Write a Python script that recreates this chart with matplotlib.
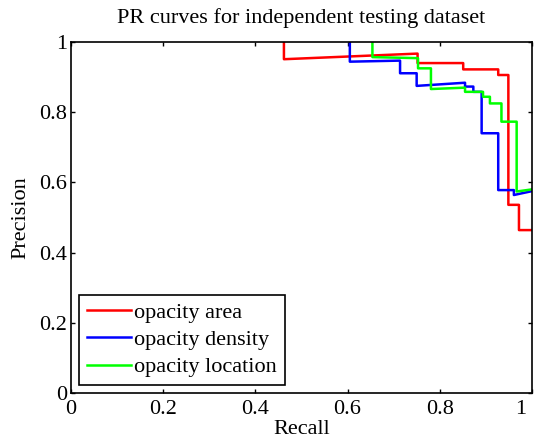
import matplotlib
matplotlib.use("Agg")
import matplotlib.pyplot as plt
import matplotlib.transforms as mtransforms

plt.rcParams['font.family'] = ['Liberation Serif', 'DejaVu Serif']

# PR curve points (recall, precision)
area_recall = [0.462, 0.462, 0.752, 0.752, 0.851, 0.851, 0.927, 0.927, 0.949, 0.949, 0.972, 0.972, 1.0]
area_precision = [1.0, 0.951, 0.967, 0.940, 0.940, 0.922, 0.922, 0.906, 0.906, 0.536, 0.536, 0.464, 0.464]

density_recall = [0.605, 0.605, 0.714, 0.714, 0.750, 0.750, 0.855, 0.855, 0.873, 0.873, 0.891, 0.891,
                  0.927, 0.927, 0.961, 0.961, 1.0]
density_precision = [1.0, 0.944, 0.947, 0.911, 0.911, 0.875, 0.884, 0.873, 0.873, 0.858, 0.858, 0.740,
                     0.740, 0.578, 0.578, 0.564, 0.575]

location_recall = [0.654, 0.654, 0.753, 0.753, 0.781, 0.781, 0.855, 0.855, 0.894, 0.894, 0.909, 0.909,
                   0.934, 0.934, 0.967, 0.967, 1.0]
location_precision = [1.0, 0.957, 0.954, 0.925, 0.925, 0.866, 0.870, 0.858, 0.858, 0.844, 0.844, 0.825,
                      0.825, 0.773, 0.773, 0.574, 0.580]

ticks = [0, 0.2, 0.4, 0.6, 0.8, 1]
tick_labels = ['0', '0.2', '0.4', '0.6', '0.8', '1']

FS = 16

fig = plt.figure(figsize=(5.34, 4.47), dpi=100)
ax = fig.add_axes([0.133, 0.121, 0.863, 0.785])

ax.plot(area_recall, area_precision, color='#ff0000', linewidth=1.8, label='opacity area')
ax.plot(density_recall, density_precision, color='#0000ff', linewidth=1.8, label='opacity density')
ax.plot(location_recall, location_precision, color='#00ff00', linewidth=1.8, label='opacity location')

ax.set_xlim(0, 1)
ax.set_ylim(0, 1)
ax.set_xticks(ticks)
ax.set_xticklabels(tick_labels)
ax.set_yticks(ticks)
ax.set_yticklabels(tick_labels)
ax.tick_params(direction='in', length=3, width=1, top=True, right=True, labelsize=FS)
ax.tick_params(axis='x', pad=5)
ax.tick_params(axis='y', pad=3)
# last x label sits left of the corner, like the reference
last = ax.get_xticklabels()[-1]
last.set_horizontalalignment('right')
last.set_transform(last.get_transform() + mtransforms.ScaledTranslation(-4 / 72, 0, fig.dpi_scale_trans))
for s in ax.spines.values():
    s.set_linewidth(1.2)

ax.set_title("PR curves for independent testing dataset", fontsize=FS, pad=14)
ax.set_xlabel("Recall", fontsize=FS, labelpad=1)
ax.set_ylabel("Precision", fontsize=FS, labelpad=6)

leg = ax.legend(loc='lower left', fontsize=FS, frameon=True, fancybox=False, edgecolor='black',
                handlelength=2.0, handletextpad=0.15, borderpad=0.35, labelspacing=0.3,
                borderaxespad=0.35, framealpha=1)
leg.get_frame().set_linewidth(1.2)

fig.savefig("out.png", dpi=100, facecolor='white')
